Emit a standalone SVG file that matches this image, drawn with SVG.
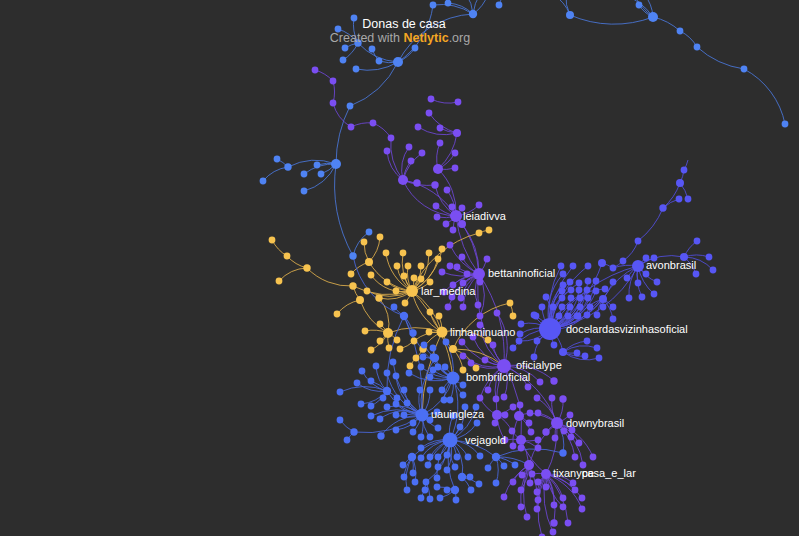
<svg xmlns="http://www.w3.org/2000/svg" width="799" height="536" viewBox="0 0 799 536">
<style>
.e{fill:none;stroke-width:1;opacity:.85}
.eb1{stroke:#4a78dc}.eb2{stroke:#4a68e0}.ed{stroke:#524fe0}.ep{stroke:#6e46d8}.ey{stroke:#e0b04c}
.b1{fill:#4f83f3}.b2{fill:#4b6ff4}.d{fill:#5756f5}.p{fill:#7a4ef2}.y{fill:#f7c34f}
.lbl{font-family:"Liberation Sans",Arial,sans-serif;font-size:11px;fill:#fff}
.ttl{font-family:"Liberation Sans",Arial,sans-serif;font-size:12.5px;text-anchor:middle}
</style>
<rect width="799" height="536" fill="#2d2d2d"/>
<g id="connectors">
<path class="e eb1" d="M354 18A40 40 0 0 0 358 43M338 29A40 40 0 0 1 358 43M345 48A40 40 0 0 1 358 43M343 60A40 40 0 0 0 358 43M358 43A60 60 0 0 0 398 62M372 49A40 40 0 0 0 379 61M379 61A40 40 0 0 0 398 62M356 69A60 60 0 0 0 398 62M415 48A40 40 0 0 1 398 62M398 62A80 80 0 0 0 433 5M398 62A90 90 0 0 1 473 14M433 5A60 60 0 0 1 473 14M448 3A40 40 0 0 1 473 14M473 14A40 40 0 0 0 466 -6M473 14A50 50 0 0 1 480 -6M473 14A40 40 0 0 0 488 -6M499 5A30 30 0 0 0 502 -6M398 62A90 90 0 0 1 350 106M350 106A130 130 0 0 0 336 164M277 159A40 40 0 0 1 288 167M263 181A40 40 0 0 1 288 167M288 167A60 60 0 0 1 336 164M304 174A50 50 0 0 1 336 164M317 165A40 40 0 0 1 336 164M321 174A40 40 0 0 0 336 164M304 191A50 50 0 0 0 336 164M336 164A150 150 0 0 0 353 256M369 232A40 40 0 0 0 353 256M570 15A110 110 0 0 0 653 17M570 15A40 40 0 0 0 552 -6M570 15A40 40 0 0 1 566 -6M653 17A60 60 0 0 0 622 -6M653 17A60 60 0 0 1 634 -6M653 17A40 40 0 0 0 644 -6M639 5A30 30 0 0 0 653 17M653 17A60 60 0 0 1 680 31M680 31A40 40 0 0 1 697 47M697 47A90 90 0 0 0 744 69M744 69A80 80 0 0 1 785 124"/>
<path class="e ep" d="M315 70A40 40 0 0 1 333 81M333 81A40 40 0 0 1 333 103M333 103A40 40 0 0 0 351 127M351 127A40 40 0 0 1 373 123M373 123A40 40 0 0 1 391 138M391 138A60 60 0 0 0 403 180M387 151A40 40 0 0 0 403 180M409 147A40 40 0 0 0 403 180M422 153A50 50 0 0 0 403 180M411 161A40 40 0 0 0 403 180M403 180A40 40 0 0 0 417 183M403 180A60 60 0 0 0 435 185M403 180A60 60 0 0 0 456 216M403 180A80 80 0 0 1 456 216M431 99A40 40 0 0 0 458 102M429 113A50 50 0 0 0 457 133M418 127A50 50 0 0 0 457 133M440 128A40 40 0 0 0 457 133M457 133A60 60 0 0 1 438 169M440 143A40 40 0 0 0 438 169M455 153A40 40 0 0 1 438 169M455 168A40 40 0 0 1 438 169M438 169A60 60 0 0 1 456 216M435 185A50 50 0 0 0 456 216M447 190A50 50 0 0 1 456 216M436 206A40 40 0 0 0 456 216M452 207A40 40 0 0 0 456 216M462 208A40 40 0 0 1 456 216M479 205A40 40 0 0 1 456 216M437 217A40 40 0 0 0 456 216M446 224A40 40 0 0 0 456 216M462 224A40 40 0 0 0 456 216M453 230A40 40 0 0 1 456 216M456 216A100 100 0 0 1 479 274M456 216A120 120 0 0 0 479 274M462 224A80 80 0 0 1 479 274M450 245A60 60 0 0 0 479 274M462 257A40 40 0 0 0 479 274M450 266A40 40 0 0 0 479 274M457 267A40 40 0 0 0 479 274M442 272A60 60 0 0 0 479 274M467 274A40 40 0 0 0 479 274M487 259A40 40 0 0 1 479 274M480 282A40 40 0 0 1 479 274M463 283A40 40 0 0 1 479 274M453 285A40 40 0 0 1 479 274M444 292A60 60 0 0 1 479 274M452 297A50 50 0 0 1 479 274M461 298A40 40 0 0 1 479 274M478 305A40 40 0 0 1 479 274M463 307A50 50 0 0 1 479 274M448 307A60 60 0 0 1 479 274M480 316A50 50 0 0 0 479 274M479 274A150 150 0 0 1 504 366M479 274A120 120 0 0 0 504 366M497 313A60 60 0 0 1 504 366M462 342A60 60 0 0 0 504 366M473 337A50 50 0 0 0 504 366M463 356A50 50 0 0 0 504 366M493 345A40 40 0 0 0 504 366M485 360A40 40 0 0 0 504 366M480 325A60 60 0 0 0 504 366M471 363A40 40 0 0 0 504 366M504 366A60 60 0 0 1 554 381M504 366A50 50 0 0 1 540 382M504 366A40 40 0 0 1 528 387M504 366A40 40 0 0 0 488 390M504 366A40 40 0 0 0 496 399M504 366A40 40 0 0 1 504 397M504 366A100 100 0 0 0 497 415M504 366A100 100 0 0 1 557 423M504 366A120 120 0 0 1 521 440M504 366A60 60 0 0 0 480 398M557 423A40 40 0 0 0 563 399M557 423A40 40 0 0 1 552 398M557 423A50 50 0 0 0 537 398M557 423A40 40 0 0 0 570 415M557 423A40 40 0 0 1 564 431M557 423A40 40 0 0 1 572 430M557 423A40 40 0 0 1 571 437M557 423A50 50 0 0 1 579 443M557 423A40 40 0 0 0 555 438M557 423A40 40 0 0 0 546 432M557 423A40 40 0 0 0 538 413M557 423A60 60 0 0 0 530 413M557 423A60 60 0 0 1 575 457M557 423A60 60 0 0 1 593 457M557 423A60 60 0 0 1 583 465M557 423A80 80 0 0 0 529 465M557 423A100 100 0 0 1 546 474M497 415A40 40 0 0 1 480 398M497 415A40 40 0 0 0 505 415M497 415A40 40 0 0 0 513 407M497 415A40 40 0 0 1 512 431M497 415A50 50 0 0 0 505 440M497 415A40 40 0 0 0 495 423M519 416A40 40 0 0 0 520 405M519 416A40 40 0 0 1 530 413M519 416A40 40 0 0 1 531 432M519 416A40 40 0 0 1 529 423M519 416A60 60 0 0 0 513 446M521 440A40 40 0 0 1 512 431M521 440A40 40 0 0 0 538 440M521 440A40 40 0 0 1 521 448M521 440A40 40 0 0 1 538 448M521 440A40 40 0 0 0 505 440M521 440A60 60 0 0 1 529 465M521 440A80 80 0 0 0 546 474M529 465A40 40 0 0 1 522 475M529 465A40 40 0 0 0 513 482M529 465A50 50 0 0 1 521 490M529 465A60 60 0 0 0 504 497M529 465A40 40 0 0 1 530 483M529 465A80 80 0 0 0 521 507M529 465A80 80 0 0 1 537 509M529 465A80 80 0 0 0 527 517M546 474A40 40 0 0 0 532 474M546 474A40 40 0 0 1 538 482M546 474A40 40 0 0 1 546 487M546 474A40 40 0 0 0 537 492M546 474A50 50 0 0 0 538 500M546 474A50 50 0 0 1 554 505M546 474A50 50 0 0 1 563 498M546 474A40 40 0 0 1 573 483M546 474A50 50 0 0 1 575 490M546 474A60 60 0 0 1 582 498M546 474A60 60 0 0 1 582 509M546 474A60 60 0 0 0 563 507M546 474A80 80 0 0 1 554 523M546 474A80 80 0 0 1 568 523M546 474A90 90 0 0 0 553 532M546 474A90 90 0 0 0 542 537"/>
<path class="e ey" d="M272 240A40 40 0 0 0 287 256M287 256A40 40 0 0 0 307 268M279 281A40 40 0 0 1 307 268M307 268A60 60 0 0 0 353 286M353 286A80 80 0 0 0 412 291M364 242A40 40 0 0 0 369 262M380 237A40 40 0 0 1 369 262M369 262A60 60 0 0 0 412 291M351 274A40 40 0 0 1 369 262M386 253A50 50 0 0 0 412 291M403 253A50 50 0 0 0 412 291M397 266A40 40 0 0 0 412 291M408 266A40 40 0 0 0 412 291M421 266A40 40 0 0 1 412 291M429 253A50 50 0 0 1 412 291M442 249A60 60 0 0 1 412 291M438 259A50 50 0 0 1 412 291M479 233A100 100 0 0 0 412 291M489 230A40 40 0 0 0 479 233M371 275A40 40 0 0 0 412 291M387 282A40 40 0 0 0 412 291M404 276A40 40 0 0 0 412 291M414 278A40 40 0 0 1 412 291M421 279A40 40 0 0 1 412 291M430 282A40 40 0 0 1 412 291M367 291A50 50 0 0 0 412 291M396 291A40 40 0 0 0 412 291M379 298A40 40 0 0 0 412 291M405 303A40 40 0 0 0 412 291M360 300A40 40 0 0 1 353 286M337 314A40 40 0 0 1 360 300M360 300A60 60 0 0 0 388 333M379 298A40 40 0 0 1 388 333M412 291A60 60 0 0 0 442 332M412 291A80 80 0 0 1 442 332M430 312A40 40 0 0 0 442 332M439 316A40 40 0 0 1 442 332M429 332A40 40 0 0 0 442 332M453 349A40 40 0 0 1 442 332M414 341A40 40 0 0 1 442 332M423 349A40 40 0 0 1 442 332M388 333A80 80 0 0 1 442 332M488 340A60 60 0 0 0 442 332M510 303A80 80 0 0 0 453 349M513 316A40 40 0 0 0 510 303M453 349A80 80 0 0 1 504 366M463 370A40 40 0 0 0 453 349M476 368A40 40 0 0 0 453 349M365 331A40 40 0 0 1 388 333M380 324A40 40 0 0 1 388 333M380 341A40 40 0 0 0 388 333M371 350A40 40 0 0 0 388 333M397 340A40 40 0 0 0 388 333M389 348A40 40 0 0 1 388 333M400 349A40 40 0 0 0 414 341M416 358A40 40 0 0 0 423 349M410 366A40 40 0 0 1 416 358M442 332A200 200 0 0 0 422 415M412 291A150 150 0 0 1 453 378"/>
<path class="e eb2" d="M353 256A80 80 0 0 0 404 316M433 357A40 40 0 0 0 453 378M438 367A40 40 0 0 0 453 378M430 377A40 40 0 0 0 453 378M445 367A40 40 0 0 1 453 378M442 390A40 40 0 0 1 453 378M450 400A40 40 0 0 0 453 378M463 395A40 40 0 0 1 453 378M463 385A40 40 0 0 1 453 378M444 400A40 40 0 0 1 453 378M446 342A60 60 0 0 1 453 378M435 358A40 40 0 0 0 453 378M433 370A40 40 0 0 0 453 378M421 367A50 50 0 0 0 453 378M409 373A50 50 0 0 0 453 378M404 316A120 120 0 0 0 453 378M453 378A60 60 0 0 1 422 415M453 378A80 80 0 0 1 450 440M423 357A40 40 0 0 0 435 358M424 345A40 40 0 0 0 435 358M433 348A40 40 0 0 1 435 358M435 358A80 80 0 0 0 422 415M394 307A40 40 0 0 0 404 316M413 333A40 40 0 0 0 404 316M404 316A200 200 0 0 1 422 415M404 316A150 150 0 0 0 387 391M387 373A60 60 0 0 0 422 415M396 376A50 50 0 0 0 422 415M404 390A40 40 0 0 0 422 415M407 403A40 40 0 0 0 422 415M396 404A40 40 0 0 0 422 415M396 415A40 40 0 0 0 422 415M404 415A40 40 0 0 1 422 415M413 423A40 40 0 0 1 422 415M413 432A40 40 0 0 0 422 415M396 430A40 40 0 0 0 422 415M430 420A40 40 0 0 1 422 415M437 412A40 40 0 0 1 422 415M420 390A40 40 0 0 0 422 415M430 390A40 40 0 0 1 422 415M380 419A40 40 0 0 1 422 415M381 436A50 50 0 0 1 422 415M438 428A40 40 0 0 1 422 415M430 437A40 40 0 0 1 422 415M421 437A40 40 0 0 0 422 415M371 416A60 60 0 0 1 422 415M387 407A40 40 0 0 1 422 415M393 362A80 80 0 0 0 422 415M376 366A40 40 0 0 0 387 391M362 371A40 40 0 0 0 387 391M357 383A40 40 0 0 0 387 391M371 381A40 40 0 0 1 387 391M340 392A60 60 0 0 1 387 391M361 404A40 40 0 0 0 387 391M371 406A40 40 0 0 0 387 391M383 398A40 40 0 0 1 387 391M397 398A40 40 0 0 0 387 391M387 391A50 50 0 0 0 422 415M354 432A100 100 0 0 0 422 415M340 420A40 40 0 0 0 354 432M347 440A40 40 0 0 1 354 432M453 416A40 40 0 0 0 450 440M460 427A40 40 0 0 1 450 440M465 407A40 40 0 0 1 450 440M476 407A50 50 0 0 1 450 440M477 423A40 40 0 0 1 450 440M421 448A40 40 0 0 1 450 440M421 458A40 40 0 0 1 450 440M430 457A40 40 0 0 1 450 440M438 457A40 40 0 0 0 450 440M447 455A40 40 0 0 0 450 440M457 457A40 40 0 0 0 450 440M468 457A40 40 0 0 0 450 440M428 465A50 50 0 0 1 450 440M438 467A40 40 0 0 0 450 440M447 470A40 40 0 0 0 450 440M455 467A40 40 0 0 1 450 440M437 478A50 50 0 0 1 450 440M426 482A60 60 0 0 0 450 440M480 456A40 40 0 0 0 450 440M403 465A40 40 0 0 1 412 457M413 473A40 40 0 0 0 412 457M404 477A40 40 0 0 1 412 457M407 490A50 50 0 0 1 412 457M415 482A40 40 0 0 0 412 457M412 457A60 60 0 0 1 450 440M470 477A40 40 0 0 0 462 477M479 484A40 40 0 0 0 462 477M471 490A40 40 0 0 0 462 477M462 477A40 40 0 0 0 450 440M447 490A40 40 0 0 1 455 490M437 487A40 40 0 0 1 455 490M456 500A40 40 0 0 0 455 490M440 498A40 40 0 0 0 455 490M455 490A80 80 0 0 1 450 440M425 490A40 40 0 0 1 426 482M421 498A40 40 0 0 1 425 490M430 499A40 40 0 0 0 426 482M488 468A40 40 0 0 1 496 457M496 483A40 40 0 0 0 496 457M504 466A40 40 0 0 0 496 457M515 465A40 40 0 0 0 496 457M496 457A80 80 0 0 0 450 440M496 457A60 60 0 0 1 529 465M563 453A40 40 0 0 0 557 423M563 453A100 100 0 0 0 496 457"/>
<path class="e ed" d="M550 329A100 100 0 0 1 561 266M550 329A100 100 0 0 1 573 266M550 329A100 100 0 0 1 588 266M550 329A120 120 0 0 0 602 263M550 329A60 60 0 0 1 563 274M550 329A50 50 0 0 1 563 285M550 329A50 50 0 0 1 570 282M550 329A60 60 0 0 1 579 283M550 329A60 60 0 0 0 588 281M550 329A60 60 0 0 0 596 281M550 329A40 40 0 0 1 562 291M550 329A40 40 0 0 1 571 290M550 329A50 50 0 0 0 579 290M550 329A50 50 0 0 0 587 290M550 329A60 60 0 0 0 596 291M550 329A40 40 0 0 0 546 297M550 329A40 40 0 0 1 562 298M550 329A40 40 0 0 0 571 298M550 329A40 40 0 0 0 580 298M550 329A50 50 0 0 0 588 298M550 329A40 40 0 0 1 542 307M550 329A40 40 0 0 0 553 307M550 329A40 40 0 0 0 562 307M550 329A40 40 0 0 0 570 307M550 329A40 40 0 0 0 580 307M550 329A40 40 0 0 0 590 307M550 329A40 40 0 0 0 536 316M550 329A40 40 0 0 0 559 316M550 329A40 40 0 0 0 568 316M550 329A40 40 0 0 0 577 316M550 329A40 40 0 0 0 521 324M550 329A40 40 0 0 1 534 315M550 329A50 50 0 0 0 513 348M550 329A40 40 0 0 1 519 341M550 329A40 40 0 0 0 520 334M550 329A40 40 0 0 1 537 341M550 329A40 40 0 0 0 554 345M550 329A40 40 0 0 1 563 352M550 329A40 40 0 0 0 534 357M550 329A80 80 0 0 0 603 299M550 329A80 80 0 0 0 613 282M550 329A60 60 0 0 1 605 289M587 341A40 40 0 0 0 563 352M597 348A40 40 0 0 0 563 352M599 358A40 40 0 0 1 563 352M585 356A40 40 0 0 1 563 352M577 353A40 40 0 0 1 563 352M613 307A40 40 0 0 0 603 299M613 319A40 40 0 0 0 603 299M603 307A40 40 0 0 1 603 299M597 315A40 40 0 0 1 603 299M587 315A40 40 0 0 1 603 299M578 316A50 50 0 0 1 603 299M603 299A80 80 0 0 1 638 266M638 266A150 150 0 0 0 550 329M638 266A120 120 0 0 1 550 329M646 258A40 40 0 0 0 638 266M654 258A40 40 0 0 0 638 266M684 257A60 60 0 0 0 638 266M646 274A40 40 0 0 1 638 266M657 282A40 40 0 0 1 638 266M638 283A40 40 0 0 1 638 266M654 294A50 50 0 0 1 638 266M642 297A50 50 0 0 1 638 266M629 298A50 50 0 0 1 638 266M627 278A40 40 0 0 1 638 266M613 268A50 50 0 0 1 638 266M697 241A40 40 0 0 0 684 257M709 257A40 40 0 0 0 684 257M713 270A40 40 0 0 0 684 257M696 274A40 40 0 0 0 684 257M602 263A40 40 0 0 1 613 268M613 268A40 40 0 0 0 623 261M623 261A40 40 0 0 0 638 241M638 241A80 80 0 0 0 663 208M663 208A60 60 0 0 0 680 183M680 183A40 40 0 0 0 684 170M684 170A40 40 0 0 0 688 160M679 199A40 40 0 0 0 663 208M688 199A40 40 0 0 0 680 183"/>
</g>
<g id="nodes-top" class="b1">
<circle cx="354" cy="18" r="3.4"/><circle cx="338" cy="29" r="3.4"/><circle cx="358" cy="43" r="3.7"/><circle cx="345" cy="48" r="3.4"/><circle cx="343" cy="60" r="3.4"/><circle cx="372" cy="49" r="3.4"/><circle cx="379" cy="61" r="3.4"/><circle cx="356" cy="69" r="3.4"/><circle cx="415" cy="48" r="3.4"/><circle cx="433" cy="5" r="3.4"/><circle cx="448" cy="3" r="3.4"/><circle cx="499" cy="5" r="3.4"/><circle cx="350" cy="106" r="3.4"/><circle cx="277" cy="159" r="3.4"/><circle cx="288" cy="167" r="3.7"/><circle cx="263" cy="181" r="3.4"/><circle cx="304" cy="174" r="3.4"/><circle cx="317" cy="165" r="3.4"/><circle cx="321" cy="174" r="3.4"/><circle cx="304" cy="191" r="3.4"/><circle cx="639" cy="5" r="3.4"/><circle cx="680" cy="31" r="3.4"/><circle cx="697" cy="47" r="3.4"/><circle cx="744" cy="69" r="3.4"/><circle cx="785" cy="124" r="3.4"/><circle cx="369" cy="232" r="3.4"/><circle cx="353" cy="256" r="3.7"/>
<g id="hub-top-a"><circle cx="398" cy="62" r="5"/></g>
<g id="hub-top-b"><circle cx="336" cy="164" r="5"/></g>
<g id="hub-top-c"><circle cx="473" cy="14" r="4.2"/></g>
<g id="hub-top-d"><circle cx="570" cy="15" r="4"/></g>
<g id="hub-top-e"><circle cx="653" cy="17" r="5"/></g>
</g>
<g id="nodes-yellow" class="y">
<circle cx="272" cy="240" r="3.4"/><circle cx="287" cy="256" r="3.4"/><circle cx="307" cy="268" r="3.7"/><circle cx="279" cy="281" r="3.4"/><circle cx="364" cy="242" r="3.4"/><circle cx="380" cy="237" r="3.4"/><circle cx="369" cy="262" r="4"/><circle cx="386" cy="253" r="3.4"/><circle cx="403" cy="253" r="3.4"/><circle cx="397" cy="266" r="3.4"/><circle cx="408" cy="266" r="3.4"/><circle cx="421" cy="266" r="3.4"/><circle cx="429" cy="253" r="3.4"/><circle cx="442" cy="249" r="3.4"/><circle cx="438" cy="259" r="3.4"/><circle cx="479" cy="233" r="3.4"/><circle cx="489" cy="230" r="3.4"/><circle cx="351" cy="274" r="3.4"/><circle cx="371" cy="275" r="3.4"/><circle cx="387" cy="282" r="3.4"/><circle cx="404" cy="276" r="3.4"/><circle cx="414" cy="278" r="3.4"/><circle cx="421" cy="279" r="3.4"/><circle cx="430" cy="282" r="3.4"/><circle cx="353" cy="286" r="3.7"/><circle cx="367" cy="291" r="3.4"/><circle cx="396" cy="291" r="3.4"/><circle cx="379" cy="298" r="3.7"/><circle cx="360" cy="300" r="4"/><circle cx="337" cy="314" r="3.4"/><circle cx="405" cy="303" r="3.4"/><circle cx="430" cy="312" r="3.4"/><circle cx="439" cy="316" r="3.4"/><circle cx="365" cy="331" r="3.4"/><circle cx="380" cy="324" r="3.4"/><circle cx="380" cy="341" r="3.4"/><circle cx="371" cy="350" r="3.4"/><circle cx="397" cy="340" r="3.4"/><circle cx="414" cy="341" r="3.4"/><circle cx="423" cy="349" r="3.7"/><circle cx="429" cy="332" r="3.4"/><circle cx="453" cy="349" r="4"/><circle cx="488" cy="340" r="3.4"/><circle cx="510" cy="303" r="3.4"/><circle cx="513" cy="316" r="3.4"/><circle cx="389" cy="348" r="3.4"/><circle cx="400" cy="349" r="3.4"/><circle cx="416" cy="358" r="3.4"/><circle cx="410" cy="366" r="3.4"/><circle cx="463" cy="370" r="3.4"/><circle cx="476" cy="368" r="3.4"/>
<g id="hub-y-a"><circle cx="388" cy="333" r="5"/></g>
</g>
<g id="nodes-purple" class="p">
<circle cx="315" cy="70" r="3.4"/><circle cx="333" cy="81" r="3.4"/><circle cx="333" cy="103" r="3.4"/><circle cx="351" cy="127" r="3.4"/><circle cx="373" cy="123" r="3.4"/><circle cx="391" cy="138" r="3.4"/><circle cx="387" cy="151" r="3.4"/><circle cx="409" cy="147" r="3.4"/><circle cx="422" cy="153" r="3.4"/><circle cx="411" cy="161" r="3.4"/><circle cx="417" cy="183" r="3.7"/><circle cx="431" cy="99" r="3.4"/><circle cx="458" cy="102" r="3.4"/><circle cx="429" cy="113" r="3.4"/><circle cx="418" cy="127" r="3.4"/><circle cx="440" cy="128" r="3.4"/><circle cx="440" cy="143" r="3.4"/><circle cx="455" cy="153" r="3.4"/><circle cx="455" cy="168" r="3.4"/><circle cx="435" cy="185" r="3.7"/><circle cx="447" cy="190" r="3.4"/><circle cx="436" cy="206" r="3.4"/><circle cx="452" cy="207" r="3.4"/><circle cx="462" cy="208" r="3.4"/><circle cx="479" cy="205" r="3.4"/><circle cx="437" cy="217" r="3.4"/><circle cx="446" cy="224" r="3.4"/><circle cx="462" cy="224" r="4"/><circle cx="453" cy="230" r="3.4"/><circle cx="450" cy="245" r="3.4"/><circle cx="462" cy="257" r="3.4"/><circle cx="450" cy="266" r="3.4"/><circle cx="457" cy="267" r="3.4"/><circle cx="442" cy="272" r="3.4"/><circle cx="467" cy="274" r="3.4"/><circle cx="487" cy="259" r="3.4"/><circle cx="480" cy="282" r="3.4"/><circle cx="463" cy="283" r="3.4"/><circle cx="453" cy="285" r="3.4"/><circle cx="444" cy="292" r="3.4"/><circle cx="452" cy="297" r="3.4"/><circle cx="461" cy="298" r="3.4"/><circle cx="478" cy="305" r="3.4"/><circle cx="463" cy="307" r="3.4"/><circle cx="448" cy="307" r="3.4"/><circle cx="480" cy="316" r="3.4"/><circle cx="497" cy="313" r="3.4"/><circle cx="462" cy="342" r="3.4"/><circle cx="473" cy="337" r="3.4"/><circle cx="463" cy="356" r="3.4"/><circle cx="493" cy="345" r="3.4"/><circle cx="485" cy="360" r="3.4"/><circle cx="480" cy="325" r="3.4"/><circle cx="471" cy="363" r="3.4"/>
<circle cx="554" cy="381" r="3.7"/><circle cx="540" cy="382" r="3.4"/><circle cx="563" cy="399" r="3.7"/><circle cx="552" cy="398" r="3.4"/><circle cx="537" cy="398" r="3.4"/><circle cx="528" cy="387" r="3.4"/><circle cx="520" cy="405" r="3.4"/><circle cx="513" cy="407" r="3.4"/><circle cx="504" cy="397" r="3.4"/><circle cx="496" cy="399" r="3.4"/><circle cx="488" cy="390" r="3.4"/><circle cx="480" cy="398" r="3.4"/><circle cx="505" cy="415" r="3.4"/><circle cx="530" cy="413" r="3.4"/><circle cx="538" cy="413" r="3.4"/><circle cx="546" cy="432" r="3.7"/><circle cx="570" cy="415" r="3.4"/><circle cx="564" cy="431" r="3.4"/><circle cx="572" cy="430" r="3.4"/><circle cx="571" cy="437" r="3.4"/><circle cx="579" cy="443" r="3.4"/><circle cx="555" cy="438" r="3.4"/><circle cx="512" cy="431" r="3.4"/><circle cx="531" cy="432" r="3.4"/><circle cx="538" cy="440" r="3.4"/><circle cx="521" cy="448" r="3.4"/><circle cx="538" cy="448" r="3.4"/><circle cx="513" cy="446" r="3.4"/><circle cx="505" cy="440" r="3.4"/><circle cx="495" cy="423" r="3.4"/><circle cx="529" cy="423" r="3.4"/><circle cx="575" cy="457" r="3.4"/><circle cx="593" cy="457" r="3.4"/><circle cx="583" cy="465" r="3.4"/><circle cx="532" cy="474" r="3.4"/><circle cx="522" cy="475" r="3.4"/><circle cx="513" cy="482" r="3.4"/><circle cx="521" cy="490" r="3.4"/><circle cx="504" cy="497" r="3.4"/><circle cx="530" cy="483" r="3.4"/><circle cx="538" cy="482" r="3.4"/><circle cx="546" cy="487" r="3.4"/><circle cx="537" cy="492" r="3.4"/><circle cx="538" cy="500" r="3.4"/><circle cx="554" cy="505" r="3.4"/><circle cx="563" cy="498" r="3.4"/><circle cx="573" cy="483" r="3.4"/><circle cx="575" cy="490" r="3.4"/><circle cx="582" cy="498" r="3.4"/><circle cx="582" cy="509" r="3.4"/><circle cx="563" cy="507" r="3.4"/><circle cx="521" cy="507" r="3.4"/><circle cx="537" cy="509" r="3.4"/><circle cx="527" cy="517" r="3.4"/><circle cx="554" cy="523" r="3.7"/><circle cx="568" cy="523" r="3.4"/><circle cx="553" cy="532" r="3.4"/><circle cx="542" cy="537" r="3.4"/>
<g id="hub-p-a"><circle cx="403" cy="180" r="5"/></g>
<g id="hub-p-b"><circle cx="438" cy="169" r="5"/></g>
<g id="hub-p-c"><circle cx="457" cy="133" r="4"/></g>
<g id="hub-p-d"><circle cx="497" cy="415" r="5"/></g>
<g id="hub-p-e"><circle cx="519" cy="416" r="5"/></g>
<g id="hub-p-f"><circle cx="521" cy="440" r="5"/></g>
<g id="hub-p-g"><circle cx="529" cy="465" r="5"/></g>
</g>
<g id="nodes-blue" class="b2">
<circle cx="394" cy="307" r="3.4"/><circle cx="413" cy="333" r="3.7"/><circle cx="424" cy="345" r="3.4"/><circle cx="433" cy="348" r="3.4"/><circle cx="446" cy="342" r="3.4"/><circle cx="423" cy="357" r="3.4"/><circle cx="445" cy="367" r="3.4"/><circle cx="433" cy="370" r="3.4"/><circle cx="376" cy="366" r="3.4"/><circle cx="393" cy="362" r="3.4"/><circle cx="362" cy="371" r="3.4"/><circle cx="357" cy="383" r="3.4"/><circle cx="371" cy="381" r="3.4"/><circle cx="340" cy="392" r="3.4"/><circle cx="361" cy="404" r="3.4"/><circle cx="371" cy="406" r="3.4"/><circle cx="383" cy="398" r="3.4"/><circle cx="397" cy="398" r="3.4"/><circle cx="404" cy="390" r="3.4"/><circle cx="387" cy="407" r="3.4"/><circle cx="396" cy="404" r="3.4"/><circle cx="407" cy="403" r="3.4"/><circle cx="371" cy="416" r="3.4"/><circle cx="380" cy="419" r="3.4"/><circle cx="396" cy="415" r="3.4"/><circle cx="404" cy="415" r="3.4"/><circle cx="340" cy="420" r="3.4"/><circle cx="354" cy="432" r="3.7"/><circle cx="347" cy="440" r="3.4"/><circle cx="381" cy="436" r="3.7"/><circle cx="396" cy="430" r="3.4"/><circle cx="413" cy="423" r="3.4"/><circle cx="413" cy="432" r="3.4"/><circle cx="430" cy="420" r="3.4"/><circle cx="438" cy="428" r="3.4"/><circle cx="430" cy="437" r="3.4"/><circle cx="421" cy="437" r="3.4"/><circle cx="437" cy="412" r="3.4"/><circle cx="450" cy="400" r="3.4"/><circle cx="387" cy="373" r="3.4"/><circle cx="396" cy="376" r="3.4"/><circle cx="409" cy="373" r="3.4"/><circle cx="421" cy="367" r="3.4"/><circle cx="430" cy="377" r="3.4"/><circle cx="438" cy="367" r="3.4"/><circle cx="433" cy="357" r="3.4"/><circle cx="442" cy="390" r="3.4"/><circle cx="430" cy="390" r="3.4"/><circle cx="420" cy="390" r="3.4"/><circle cx="444" cy="400" r="3.4"/><circle cx="463" cy="395" r="3.4"/><circle cx="463" cy="385" r="3.4"/><circle cx="465" cy="407" r="3.4"/><circle cx="476" cy="407" r="3.4"/><circle cx="453" cy="416" r="3.4"/><circle cx="460" cy="427" r="3.4"/><circle cx="477" cy="423" r="3.4"/><circle cx="403" cy="465" r="3.4"/><circle cx="413" cy="473" r="3.4"/><circle cx="404" cy="477" r="3.4"/><circle cx="407" cy="490" r="3.4"/><circle cx="421" cy="448" r="3.4"/><circle cx="421" cy="458" r="3.4"/><circle cx="430" cy="457" r="3.4"/><circle cx="438" cy="457" r="3.4"/><circle cx="447" cy="455" r="3.4"/><circle cx="457" cy="457" r="3.4"/><circle cx="468" cy="457" r="3.4"/><circle cx="428" cy="465" r="3.4"/><circle cx="438" cy="467" r="3.4"/><circle cx="447" cy="470" r="3.4"/><circle cx="455" cy="467" r="3.4"/><circle cx="470" cy="477" r="3.4"/><circle cx="479" cy="484" r="3.4"/><circle cx="471" cy="490" r="3.4"/><circle cx="447" cy="490" r="3.4"/><circle cx="437" cy="487" r="3.4"/><circle cx="425" cy="490" r="3.4"/><circle cx="415" cy="482" r="3.4"/><circle cx="426" cy="482" r="3.4"/><circle cx="437" cy="478" r="3.4"/><circle cx="421" cy="498" r="3.4"/><circle cx="430" cy="499" r="3.4"/><circle cx="440" cy="498" r="3.4"/><circle cx="456" cy="500" r="3.4"/><circle cx="488" cy="468" r="3.4"/><circle cx="496" cy="483" r="3.4"/><circle cx="504" cy="466" r="3.4"/><circle cx="515" cy="465" r="3.4"/><circle cx="480" cy="456" r="3.4"/><circle cx="563" cy="453" r="3.7"/>
<g id="hub-b-a"><circle cx="404" cy="316" r="4.2"/></g>
<g id="hub-b-b"><circle cx="435" cy="358" r="4.2"/></g>
<g id="hub-b-c"><circle cx="387" cy="391" r="4.2"/></g>
<g id="hub-b-d"><circle cx="412" cy="457" r="4.2"/></g>
<g id="hub-b-e"><circle cx="462" cy="477" r="4.2"/></g>
<g id="hub-b-f"><circle cx="455" cy="490" r="4.2"/></g>
<g id="hub-b-g"><circle cx="496" cy="457" r="4.2"/></g>
</g>
<g id="nodes-indigo" class="d">
<circle cx="561" cy="266" r="3.4"/><circle cx="573" cy="266" r="3.4"/><circle cx="588" cy="266" r="3.4"/><circle cx="613" cy="268" r="3.4"/><circle cx="623" cy="261" r="3.4"/><circle cx="638" cy="241" r="3.4"/><circle cx="663" cy="208" r="3.7"/><circle cx="684" cy="170" r="3.4"/><circle cx="679" cy="199" r="3.4"/><circle cx="688" cy="199" r="3.4"/><circle cx="646" cy="258" r="3.4"/><circle cx="654" cy="258" r="3.4"/><circle cx="697" cy="241" r="3.4"/><circle cx="709" cy="257" r="3.4"/><circle cx="713" cy="270" r="3.4"/><circle cx="696" cy="274" r="3.4"/><circle cx="646" cy="274" r="3.4"/><circle cx="657" cy="282" r="3.4"/><circle cx="638" cy="283" r="3.4"/><circle cx="654" cy="294" r="3.4"/><circle cx="642" cy="297" r="3.4"/><circle cx="629" cy="298" r="3.4"/><circle cx="627" cy="278" r="3.4"/><circle cx="613" cy="282" r="3.4"/><circle cx="605" cy="289" r="3.4"/><circle cx="613" cy="307" r="3.4"/><circle cx="613" cy="319" r="3.4"/><circle cx="603" cy="307" r="3.4"/><circle cx="597" cy="315" r="3.4"/><circle cx="587" cy="315" r="3.4"/><circle cx="578" cy="316" r="3.4"/><circle cx="563" cy="274" r="3.4"/><circle cx="563" cy="285" r="3.4"/><circle cx="570" cy="282" r="3.4"/><circle cx="579" cy="283" r="3.4"/><circle cx="588" cy="281" r="3.4"/><circle cx="596" cy="281" r="3.4"/><circle cx="562" cy="291" r="3.4"/><circle cx="571" cy="290" r="3.4"/><circle cx="579" cy="290" r="3.4"/><circle cx="587" cy="290" r="3.4"/><circle cx="596" cy="291" r="3.4"/><circle cx="546" cy="297" r="3.4"/><circle cx="562" cy="298" r="3.4"/><circle cx="571" cy="298" r="3.4"/><circle cx="580" cy="298" r="3.4"/><circle cx="588" cy="298" r="3.4"/><circle cx="542" cy="307" r="3.4"/><circle cx="553" cy="307" r="3.4"/><circle cx="562" cy="307" r="3.4"/><circle cx="570" cy="307" r="3.4"/><circle cx="580" cy="307" r="3.4"/><circle cx="590" cy="307" r="3.4"/><circle cx="536" cy="316" r="3.4"/><circle cx="559" cy="316" r="3.4"/><circle cx="568" cy="316" r="3.4"/><circle cx="577" cy="316" r="3.4"/><circle cx="521" cy="324" r="3.4"/><circle cx="534" cy="315" r="3.4"/><circle cx="513" cy="348" r="3.4"/><circle cx="519" cy="341" r="3.4"/><circle cx="520" cy="334" r="3.4"/><circle cx="537" cy="341" r="3.4"/><circle cx="554" cy="345" r="3.4"/><circle cx="534" cy="357" r="3.4"/><circle cx="587" cy="341" r="3.4"/><circle cx="597" cy="348" r="3.4"/><circle cx="599" cy="358" r="3.4"/><circle cx="585" cy="356" r="3.4"/><circle cx="577" cy="353" r="3.4"/>
<g id="hub-d-a"><circle cx="602" cy="263" r="4"/></g>
<g id="hub-d-b"><circle cx="603" cy="299" r="4"/></g>
<g id="hub-d-c"><circle cx="563" cy="352" r="4"/></g>
<g id="hub-d-d"><circle cx="680" cy="183" r="4"/></g>
<g id="hub-d-e"><circle cx="684" cy="257" r="4"/></g>
</g>
<g id="leiadivva"><circle class="p" cx="456" cy="216" r="6"/><text class="lbl" x="463" y="220">leiadivva</text></g>
<g id="bettaninoficial"><circle class="p" cx="479" cy="274" r="6"/><text class="lbl" x="488" y="277">bettaninoficial</text></g>
<g id="lar_medina"><circle class="y" cx="412" cy="291" r="6"/><text class="lbl" x="421" y="295">lar_medina</text></g>
<g id="linhaminuano"><circle class="y" cx="442" cy="332" r="5.5"/><text class="lbl" x="450" y="336">linhaminuano</text></g>
<g id="docelardasvizinhasoficial"><circle class="d" cx="550" cy="329" r="11"/><text class="lbl" x="566" y="333">docelardasvizinhasoficial</text></g>
<g id="avonbrasil"><circle class="d" cx="638" cy="266" r="6"/><text class="lbl" x="646" y="269">avonbrasil</text></g>
<g id="oficialype"><circle class="p" cx="504" cy="366" r="7"/><text class="lbl" x="516" y="369">oficialype</text></g>
<g id="bombriloficial"><circle class="b2" cx="453" cy="378" r="6.5"/><text class="lbl" x="466" y="381">bombriloficial</text></g>
<g id="uauingleza"><circle class="b2" cx="422" cy="415" r="6.5"/><text class="lbl" x="431" y="418">uauingleza</text></g>
<g id="vejagold"><circle class="b2" cx="450" cy="440" r="7.5"/><text class="lbl" x="465" y="444">vejagold</text></g>
<g id="downybrasil"><circle class="p" cx="557" cy="423" r="6"/><text class="lbl" x="566" y="427">downybrasil</text></g>
<g id="tixanype"><circle class="p" cx="546" cy="474" r="5"/><text class="lbl" x="553" y="477">tixanype</text></g>
<g id="casa_e_lar"><text class="lbl" x="582" y="477">casa_e_lar</text></g>
<g id="title">
<text class="ttl" x="404" y="28" fill="#ffffff">Donas de casa</text>
<text class="ttl" x="400" y="42" fill="#a8a8a8">Created with <tspan fill="#f5a623" font-weight="bold">Netlytic</tspan>.org</text>
</g>
</svg>
